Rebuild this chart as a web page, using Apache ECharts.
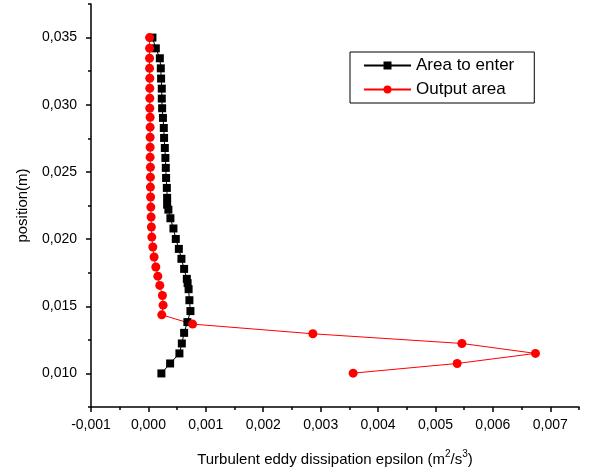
<!DOCTYPE html>
<html>
<head>
<meta charset="utf-8">
<script src="https://cdn.jsdelivr.net/npm/echarts@6/dist/echarts.min.js"></script>
<style>
  html, body { margin: 0; padding: 0; background: #fff; }
  #chart { width: 590px; height: 473px; }
</style>
</head>
<body>
<div id="chart"></div>
<script>
// Area to enter (black squares)
var enterX = [0.00007, 0.000129, 0.000199, 0.000216, 0.000221, 0.000233, 0.000233, 0.000239, 0.000253,
  0.000268, 0.000273, 0.000286, 0.000296, 0.000303, 0.000308, 0.000321, 0.000326, 0.000326, 0.000348,
  0.000383, 0.000436, 0.000477, 0.00053, 0.000575, 0.000622, 0.000669, 0.000683, 0.0007, 0.000714,
  0.000732, 0.000679, 0.000622, 0.000582, 0.00054, 0.000378, 0.000226];
var enterY = [0.0350, 0.0342, 0.03346, 0.03271, 0.03195, 0.0312, 0.03046, 0.02974, 0.02902,
  0.02827, 0.02753, 0.02678, 0.02604, 0.0253, 0.02455, 0.02381, 0.02307, 0.02256, 0.02219,
  0.02155, 0.02079, 0.02001, 0.01927, 0.01853, 0.01778, 0.01704, 0.01672, 0.01627, 0.01545,
  0.01464, 0.01382, 0.01302, 0.01223, 0.01149, 0.01074, 0.0100];

// Output area (red circles)
var outX = [0.00002, 0.00002, 0.00002, 0.00002, 0.000024, 0.000024, 0.000024, 0.000024, 0.00003,
  0.00003, 0.00003, 0.00003, 0.00003, 0.000035, 0.000035, 0.000035, 0.000038, 0.000042, 0.000047,
  0.000052, 0.000059, 0.000077, 0.000099, 0.000129, 0.000164, 0.000198, 0.000244, 0.000256, 0.000233,
  0.00077, 0.002864, 0.00546, 0.006742, 0.005378, 0.003566];
var outY = [0.0350, 0.0342, 0.03346, 0.03271, 0.03197, 0.03123, 0.03048, 0.02974, 0.02907,
  0.02833, 0.02758, 0.02684, 0.0261, 0.02535, 0.02461, 0.02387, 0.02313, 0.02238, 0.02164,
  0.0209, 0.02015, 0.01941, 0.01867, 0.01792, 0.01724, 0.01655, 0.0158, 0.01508, 0.01436,
  0.01367, 0.01295, 0.01223, 0.01149, 0.01074, 0.01002];

var yMajor = [0.010, 0.015, 0.020, 0.025, 0.030, 0.035];
var seriesNames = ['Area to enter', 'Output area'];

function pairs(xs, ys) {
  var out = [];
  for (var i = 0; i < xs.length; i++) out.push([xs[i], ys[i]]);
  return out;
}
function fmt(v) {
  return v.toFixed(3).replace('.', ',');
}

var font = 'Liberation Sans, Arial, sans-serif';
var axisLine = { show: true, onZero: false, lineStyle: { color: '#000', width: 1.5 } };
var hiddenLine = { show: false, onZero: false };

var myChart = echarts.init(document.getElementById('chart'));
myChart.setOption({
  animation: false,
  backgroundColor: '#fff',
  textStyle: { fontFamily: font },
  grid: { left: 91, right: 11, top: 4, bottom: 66, containLabel: false, outerBoundsMode: 'none' },
  legend: {
    orient: 'vertical',
    left: 350,
    top: 52,
    data: seriesNames,
    itemWidth: 47,
    itemHeight: 10,
    itemGap: 7,
    padding: [5, 20, 5, 13],
    borderColor: '#000',
    borderWidth: 1,
    textStyle: { fontSize: 17, color: '#000', fontFamily: font }
  },
  xAxis: [{
    type: 'value',
    min: -0.001,
    max: 0.0075,
    interval: 0.001,
    axisLine: axisLine,
    axisTick: { show: true, length: 5, lineStyle: { color: '#000', width: 1.5 } },
    axisLabel: { fontSize: 14, color: '#000', margin: 11, formatter: fmt, showMaxLabel: false },
    splitLine: { show: false },
    name: 'Turbulent eddy dissipation epsilon (m{sup|2}/s{sup|3})',
    nameLocation: 'middle',
    nameGap: 42,
    nameTextStyle: {
      fontSize: 15, color: '#000', fontFamily: font, lineHeight: 22,
      rich: { sup: { fontSize: 10, color: '#000', verticalAlign: 'top', lineHeight: 10 } }
    }
  }, {
    // minor ticks
    type: 'value',
    position: 'bottom',
    min: -0.001,
    max: 0.0075,
    interval: 0.0005,
    axisLine: hiddenLine,
    axisTick: { show: true, length: 3, lineStyle: { color: '#000', width: 1.5 } },
    axisLabel: { show: false },
    splitLine: { show: false }
  }],
  yAxis: [{
    type: 'value',
    min: 0.0075,
    max: 0.0375,
    axisLine: axisLine,
    axisTick: { show: true, length: 5, customValues: yMajor, lineStyle: { color: '#000', width: 1.5 } },
    axisLabel: { fontSize: 14, color: '#000', margin: 14, customValues: yMajor, formatter: fmt },
    splitLine: { show: false },
    name: 'position(m)',
    nameLocation: 'middle',
    nameGap: 61,
    nameTextStyle: { fontSize: 15, color: '#000', fontFamily: font }
  }, {
    type: 'value',
    position: 'left',
    offset: 0,
    min: 0.0075,
    max: 0.0375,
    interval: 0.0025,
    axisLine: hiddenLine,
    axisTick: { show: true, length: 3, lineStyle: { color: '#000', width: 1.5 } },
    axisLabel: { show: false },
    splitLine: { show: false }
  }],
  series: [{
    name: seriesNames[0],
    type: 'line',
    data: pairs(enterX, enterY),
    symbol: 'rect',
    symbolSize: 8,
    showAllSymbol: true,
    itemStyle: { color: '#000' },
    lineStyle: { color: '#000', width: 1 }
  }, {
    name: seriesNames[1],
    type: 'line',
    data: pairs(outX, outY),
    symbol: 'circle',
    symbolSize: 9,
    showAllSymbol: true,
    itemStyle: { color: '#ff0000' },
    lineStyle: { color: '#ff0000', width: 1 }
  }]
});
</script>
</body>
</html>
